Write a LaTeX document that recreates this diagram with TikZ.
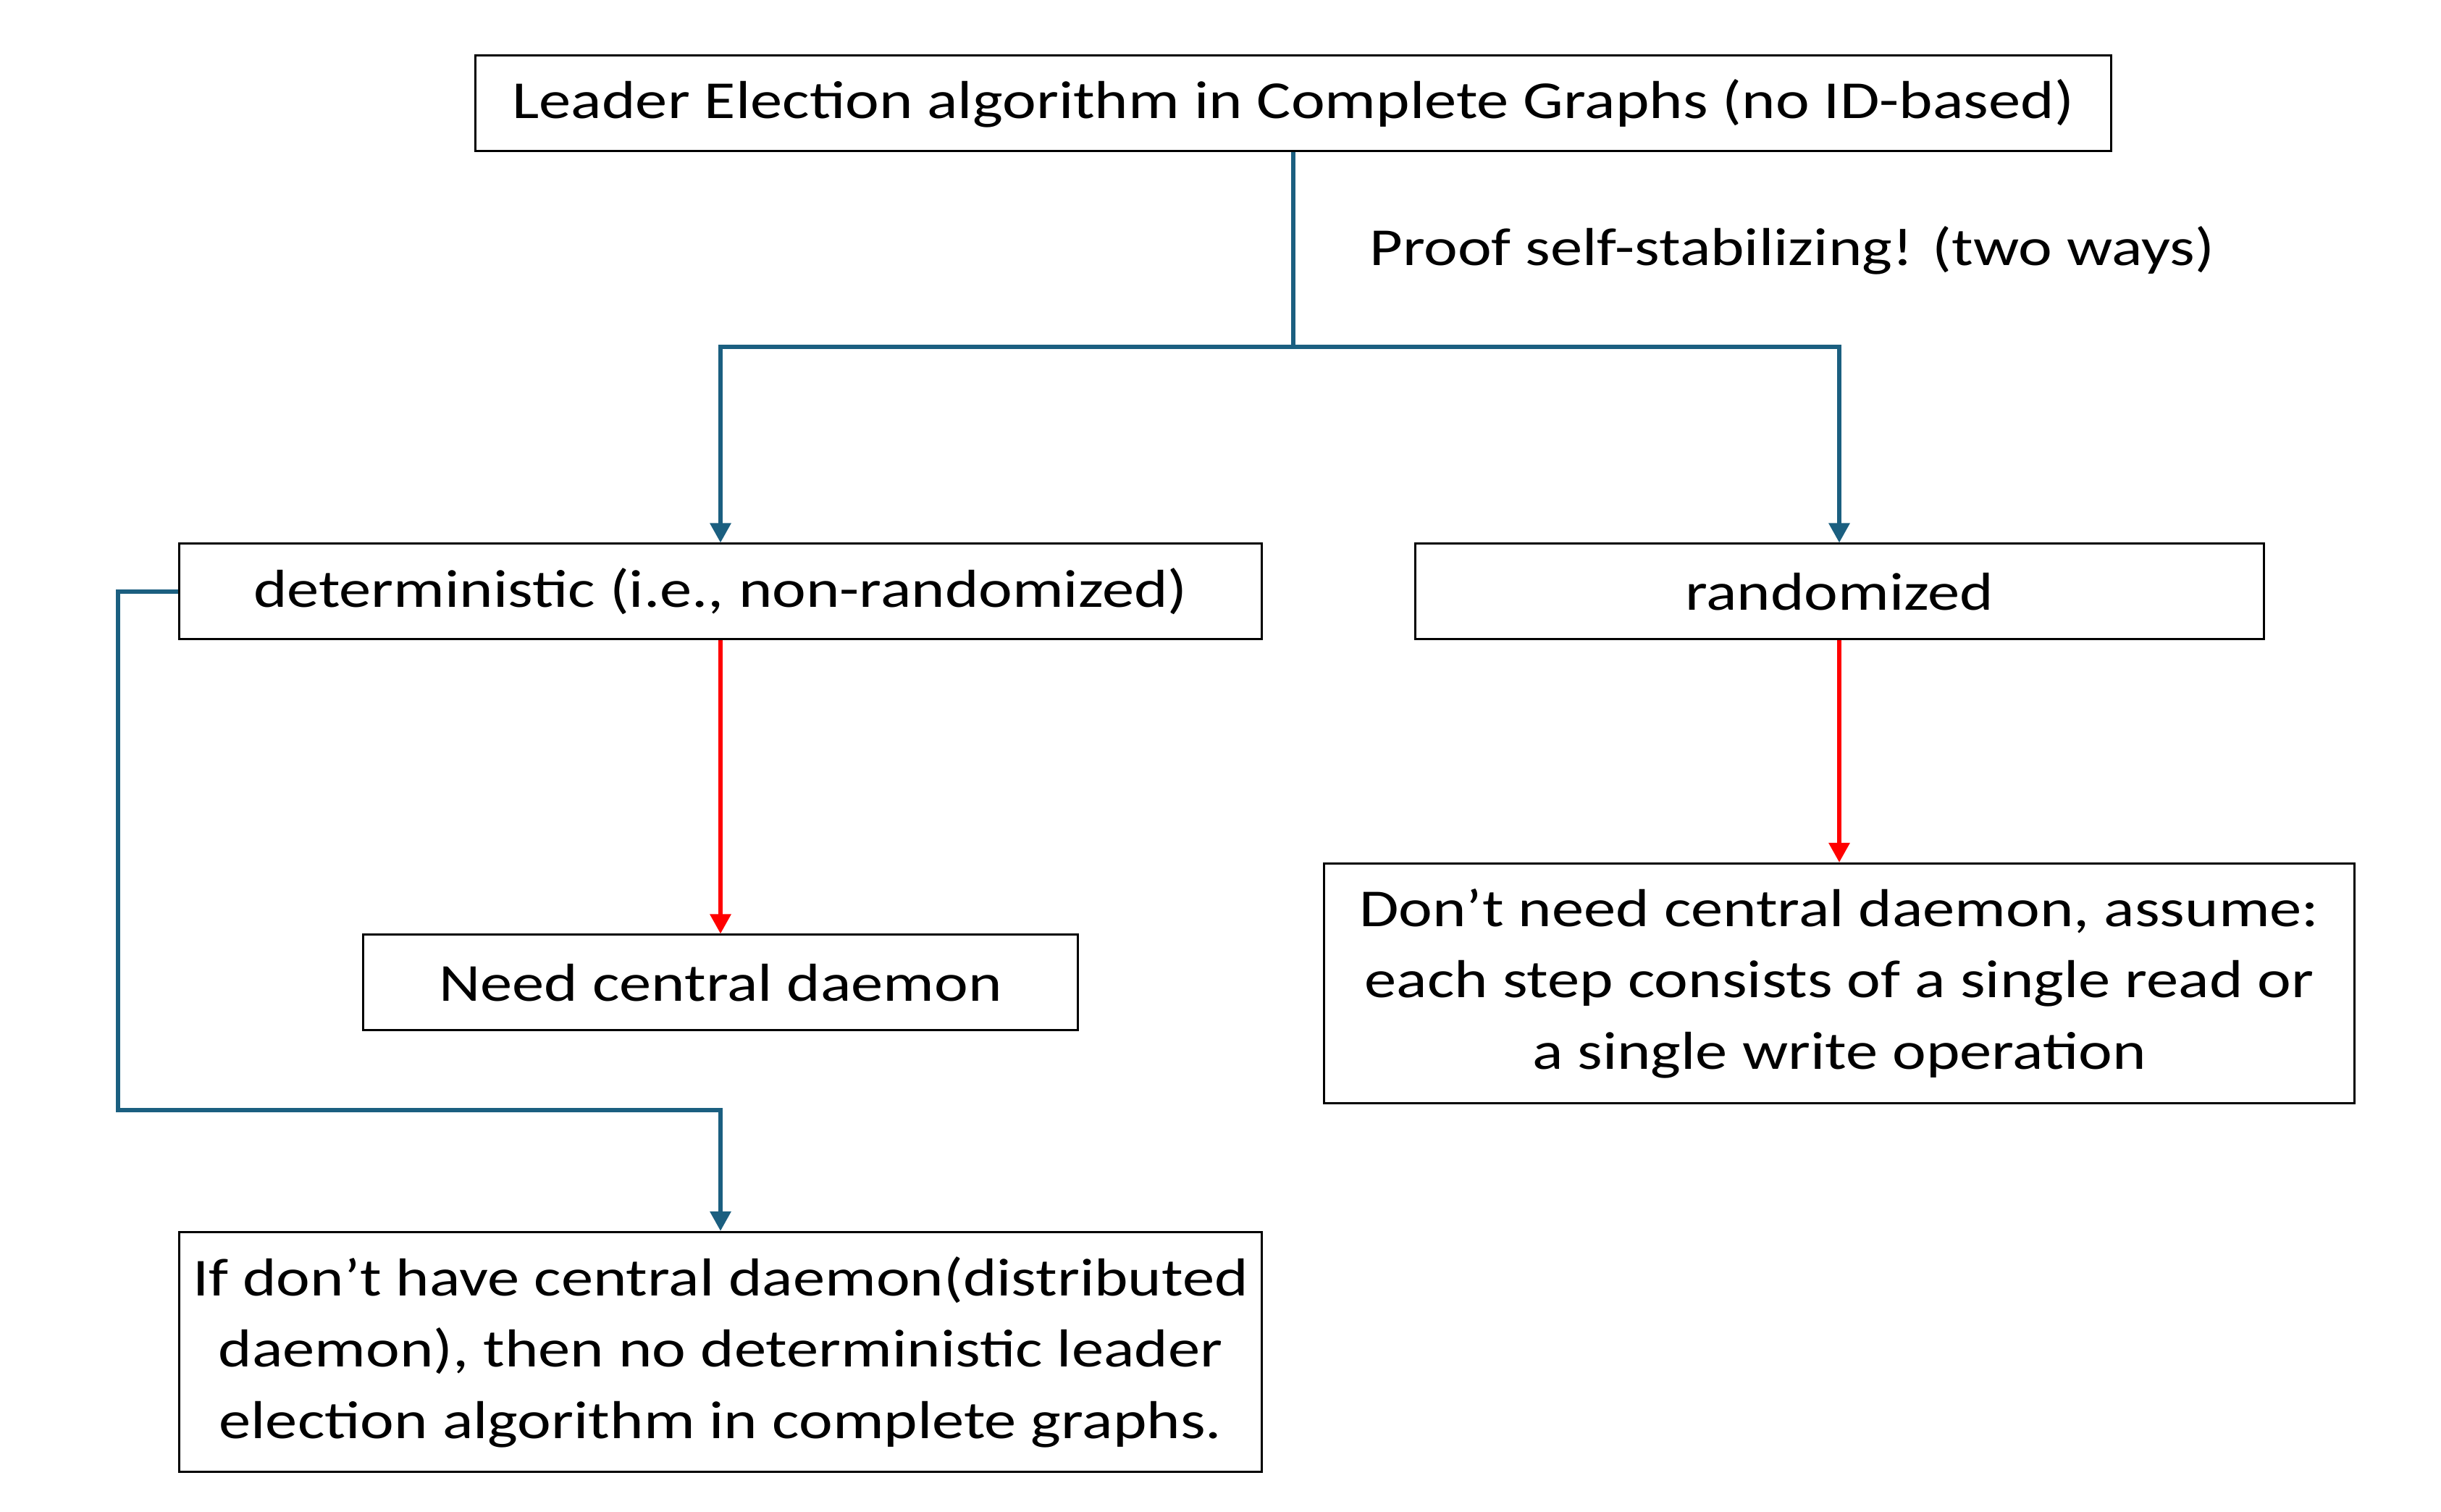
\documentclass[tikz,border=0pt]{standalone}
\usepackage{fontspec}
\setmainfont{Carlito}[FakeStretch=1.2]
\usetikzlibrary{arrows.meta}
\definecolor{flowblue}{RGB}{27,95,128}
\definecolor{flowred}{RGB}{255,0,0}

\begin{document}
\begin{tikzpicture}[
    box/.style={draw=black, line width=0.85pt, minimum height=1.32cm, align=center, inner sep=0pt},
    bluearrow/.style={draw=flowblue, line width=1.7pt, -{Triangle[width=0.28cm, length=0.27cm]}},
    redarrow/.style={draw=flowred, line width=1.7pt, -{Triangle[width=0.28cm, length=0.27cm]}},
    font=\fontsize{21}{28}\selectfont
  ]
    \useasboundingbox (0,0) rectangle (33.71,20.88);

    % Top box
    \node[box, minimum width=22.59cm] (top) at (17.86,19.45) {Leader Election algorithm in Complete Graphs (no ID-based)};
    \node[anchor=center] (proof) at (24.75,17.42) {Proof self-stabilizing! (two ways)};

    % Two ways
    \node[box, minimum width=14.95cm] (det) at (9.95,12.71) {deterministic (i.e., non-randomized)};
    \node[box, minimum width=11.72cm] (rand) at (25.40,12.71) {randomized};

    % Results
    \node[box, minimum width=9.87cm] (need) at (9.95,7.31) {Need central daemon};
    \node[box, minimum width=14.23cm, minimum height=3.31cm] (noneed) at (25.40,7.30)
      {Don’t need central daemon, assume:\\each step consists of a single read or\\a single write operation};
    \node[box, minimum width=14.95cm, minimum height=3.31cm] (nodaemon) at (9.95,2.21)
      {If don’t have central daemon(distributed\\daemon), then no deterministic leader\\election algorithm in complete graphs.};

    % Split
    \coordinate (split) at (top.south |- 0,16.09);
    \draw[flowblue, line width=1.7pt] (top.south) -- (split);
    \draw[bluearrow] (split) -| (det.north);
    \draw[bluearrow] (split) -| (rand.north);

    % Downward
    \draw[redarrow] (det.south) -- (need.north);
    \draw[redarrow] (rand.south) -- (noneed.north);

    % Left detour
    \coordinate (bendA) at (1.63,12.71);
    \coordinate (bendB) at (1.63,5.55);
    \draw[bluearrow] (det.west) -- (bendA) -- (bendB) -| (nodaemon.north);
\end{tikzpicture}
\end{document}
